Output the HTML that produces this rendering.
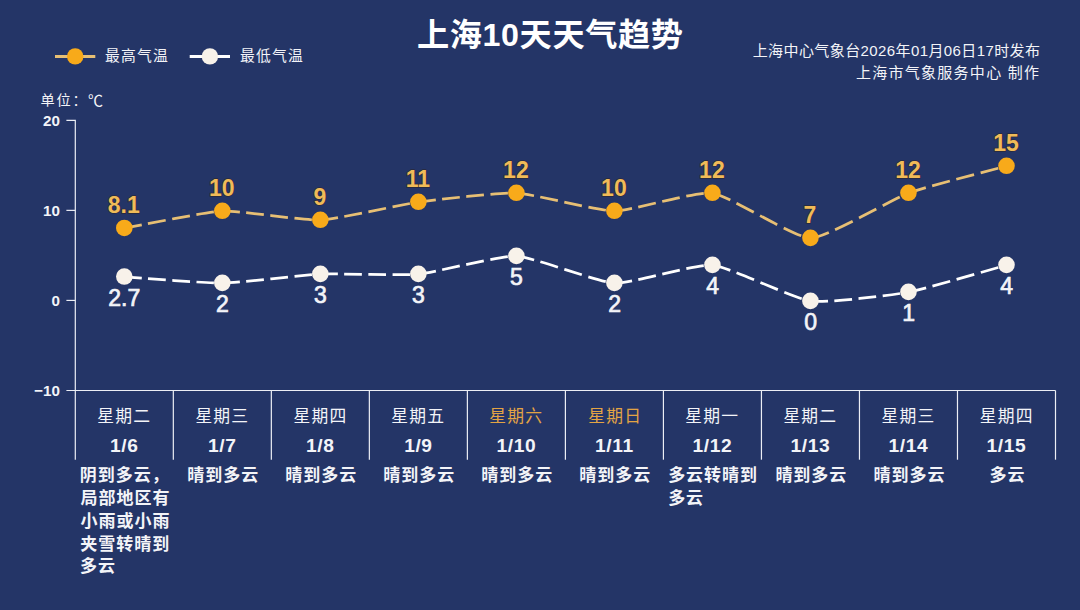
<!DOCTYPE html>
<html lang="zh-CN"><head><meta charset="utf-8"><title>上海10天天气趋势</title>
<style>
html,body{margin:0;padding:0;background:#243567;}
body{width:1080px;height:610px;overflow:hidden;font-family:"Liberation Sans",sans-serif;}
svg{display:block;font-family:"Liberation Sans","Noto Sans CJK SC",sans-serif;}
</style></head><body>
<svg width="1080" height="610" viewBox="0 0 1080 610" role="img" aria-label="上海10天天气趋势">
<rect width="1080" height="610" fill="#243567"/>
<g><title>上海10天天气趋势</title><text x="550.3" y="46.3" font-size="32.2" font-weight="bold" fill="#fff" text-anchor="middle" letter-spacing="0.6">上海10天天气趋势</text></g>
<line x1="55" y1="56.5" x2="95.3" y2="56.5" stroke="#e7bf74" stroke-width="2.9"/><circle cx="75.2" cy="56.4" r="8.2" fill="#f8aa1a"/><g fill="#f3f4f8"><title>最高气温</title><text x="104.9" y="60.9" font-size="14.8" letter-spacing="1.2">最高气温</text></g>
<line x1="189.7" y1="56.5" x2="230" y2="56.5" stroke="#fff" stroke-width="2.9"/><circle cx="209.9" cy="56.4" r="8.2" fill="#f8f2ea"/><g fill="#f3f4f8"><title>最低气温</title><text x="239.9" y="60.9" font-size="14.8" letter-spacing="1.2">最低气温</text></g>
<g fill="#f3f4f8"><title>上海中心气象台2026年01月06日17时发布</title><text x="752.7" y="56.2" font-size="15" textLength="287.3" lengthAdjust="spacing">上海中心气象台2026年01月06日17时发布</text></g>
<g fill="#f3f4f8"><title>上海市气象服务中心 制作</title><text x="856" y="77.9" font-size="15" textLength="183.1" lengthAdjust="spacing" xml:space="preserve">上海市气象服务中心 制作</text></g>
<g><title>单位：℃</title><text x="40.5" y="105.3" font-size="14.2" fill="#f3f4f8" letter-spacing="1.8">单位：</text><text x="88" y="105.8" font-size="15" fill="#f3f4f8">℃</text></g>
<g stroke="#eceef5" stroke-width="1.2" fill="none">
<path d="M66.4 120.3H75.3V390.5"/>
<path d="M66.4 210.37H75.3"/>
<path d="M66.4 300.43H75.3"/>
<path d="M66.4 390.5H1055.5"/>
<path d="M75.3 390.5V459.7"/>
<path d="M173.32 390.5V459.7"/>
<path d="M271.34 390.5V459.7"/>
<path d="M369.36 390.5V459.7"/>
<path d="M467.38 390.5V459.7"/>
<path d="M565.4 390.5V459.7"/>
<path d="M663.42 390.5V459.7"/>
<path d="M761.44 390.5V459.7"/>
<path d="M859.46 390.5V459.7"/>
<path d="M957.48 390.5V459.7"/>
<path d="M1055.5 390.5V459.7"/>
</g>
<g font-size="15.2" font-weight="bold" fill="#f3f4f8" text-anchor="end">
<g><title>20</title><text x="60" y="125.6">20</text></g>
<g><title>10</title><text x="60" y="215.67">10</text></g>
<g><title>0</title><text x="60" y="305.73">0</text></g>
<g><title>-10</title><text x="60" y="395.8">−10</text></g>
</g>
<g fill="none" stroke="#e7bf74" stroke-width="2.75"><path stroke-dasharray="17.87 6.5" d="M124.31 228.18C132.15 226.81 206.65 211.72 222.33 211.07"/><path stroke-dasharray="17.67 6.43" d="M222.33 211.07C238.01 210.42 304.67 220.79 320.35 220.07"/><path stroke-dasharray="17.89 6.51" d="M320.35 220.07C336.03 219.35 402.69 204.22 418.37 202.06"/><path stroke-dasharray="17.67 6.43" d="M418.37 202.06C434.05 199.9 500.71 192.33 516.39 193.05"/><path stroke-dasharray="17.89 6.51" d="M516.39 193.05C532.07 193.77 598.73 211.07 614.41 211.07"/><path stroke-dasharray="17.89 6.51" d="M614.41 211.07C630.09 211.07 696.75 190.89 712.43 193.05"/><path stroke-dasharray="19.37 7.04" d="M712.43 193.05C728.11 195.21 794.77 238.09 810.45 238.09"/><path stroke-dasharray="19.37 7.04" d="M810.45 238.09C826.13 238.09 892.79 198.82 908.47 193.05"/><path stroke-dasharray="18.26 6.64" d="M908.47 193.05C924.15 187.29 998.65 168.19 1006.49 166.03"/></g><g fill="#f8aa1a"><circle cx="124.31" cy="227.93" r="8.3"/><circle cx="222.33" cy="210.82" r="8.3"/><circle cx="320.35" cy="219.82" r="8.3"/><circle cx="418.37" cy="201.81" r="8.3"/><circle cx="516.39" cy="192.8" r="8.3"/><circle cx="614.41" cy="210.82" r="8.3"/><circle cx="712.43" cy="192.8" r="8.3"/><circle cx="810.45" cy="237.84" r="8.3"/><circle cx="908.47" cy="192.8" r="8.3"/><circle cx="1006.49" cy="165.78" r="8.3"/></g>
<g fill="none" stroke="#fff" stroke-width="2.75"><path stroke-dasharray="17.64 6.41" d="M124.31 276.82C132.15 277.32 206.65 283.34 222.33 283.12"/><path stroke-dasharray="17.67 6.43" d="M222.33 283.12C238.01 282.9 304.67 274.83 320.35 274.11"/><path stroke-dasharray="17.6 6.4" d="M320.35 274.11C336.03 273.39 402.69 275.55 418.37 274.11"/><path stroke-dasharray="17.89 6.51" d="M418.37 274.11C434.05 272.67 500.71 255.38 516.39 256.1"/><path stroke-dasharray="18.26 6.64" d="M516.39 256.1C532.07 256.82 598.73 282.4 614.41 283.12"/><path stroke-dasharray="17.89 6.51" d="M614.41 283.12C630.09 283.84 696.75 263.67 712.43 265.11"/><path stroke-dasharray="18.75 6.82" d="M712.43 265.11C728.11 266.55 794.77 298.97 810.45 301.13"/><path stroke-dasharray="17.67 6.43" d="M810.45 301.13C826.13 303.29 892.79 295.01 908.47 292.13"/><path stroke-dasharray="18.26 6.64" d="M908.47 292.13C924.15 289.24 998.65 267.27 1006.49 265.11"/></g><g fill="#f8f2ea"><circle cx="124.31" cy="276.57" r="8.3"/><circle cx="222.33" cy="282.87" r="8.3"/><circle cx="320.35" cy="273.86" r="8.3"/><circle cx="418.37" cy="273.86" r="8.3"/><circle cx="516.39" cy="255.85" r="8.3"/><circle cx="614.41" cy="282.87" r="8.3"/><circle cx="712.43" cy="264.86" r="8.3"/><circle cx="810.45" cy="300.88" r="8.3"/><circle cx="908.47" cy="291.88" r="8.3"/><circle cx="1006.49" cy="264.86" r="8.3"/></g>
<g font-size="23" font-weight="bold" fill="#f0bb58" stroke="#2e2118" stroke-opacity="0.6" stroke-width="1.4" paint-order="stroke" text-anchor="middle">
<g><title>8.1</title><text x="123.8" y="213.03">8.1</text></g>
<g><title>10</title><text x="221.8" y="195.92">10</text></g>
<g><title>9</title><text x="319.85" y="204.92">9</text></g>
<g><title>11</title><text x="417.9" y="186.91">11</text></g>
<g><title>12</title><text x="515.9" y="177.9">12</text></g>
<g><title>10</title><text x="613.9" y="195.92">10</text></g>
<g><title>12</title><text x="711.9" y="177.9">12</text></g>
<g><title>7</title><text x="809.95" y="222.94">7</text></g>
<g><title>12</title><text x="907.95" y="177.9">12</text></g>
<g><title>15</title><text x="1006" y="150.88">15</text></g>
</g>
<g font-size="23" fill="#f3f4f8" stroke="#f3f4f8" stroke-width="0.7" text-anchor="middle">
<g><title>2.7</title><text x="124.3" y="306.17">2.7</text></g>
<g><title>2</title><text x="222.5" y="312.47">2</text></g>
<g><title>3</title><text x="320.5" y="303.46">3</text></g>
<g><title>3</title><text x="418.5" y="303.46">3</text></g>
<g><title>5</title><text x="516.5" y="285.45">5</text></g>
<g><title>2</title><text x="614.6" y="312.47">2</text></g>
<g><title>4</title><text x="712.6" y="294.46">4</text></g>
<g><title>0</title><text x="810.6" y="330.48">0</text></g>
<g><title>1</title><text x="908.6" y="321.48">1</text></g>
<g><title>4</title><text x="1006.6" y="294.46">4</text></g>
</g>
<g font-size="16.8" letter-spacing="1.2" fill="#f3f4f8">
<g><title>星期二</title><text x="97.3" y="421.58">星期二</text></g>
<g><title>星期三</title><text x="195.4" y="421.58">星期三</text></g>
<g><title>星期四</title><text x="293.6" y="421.58">星期四</text></g>
<g><title>星期五</title><text x="391.3" y="421.58">星期五</text></g>
<g fill="#e3a444"><title>星期六</title><text x="489.3" y="421.58">星期六</text></g>
<g fill="#e3a444"><title>星期日</title><text x="588.3" y="421.58">星期日</text></g>
<g><title>星期一</title><text x="685.3" y="421.58">星期一</text></g>
<g><title>星期二</title><text x="783.4" y="421.58">星期二</text></g>
<g><title>星期三</title><text x="881.6" y="421.58">星期三</text></g>
<g><title>星期四</title><text x="979.7" y="421.58">星期四</text></g>
</g>
<g font-size="19.2" font-weight="bold" fill="#f3f4f8" text-anchor="middle" letter-spacing="0.6">
<g><title>1/6</title><text x="124.3" y="451.7">1/6</text></g>
<g><title>1/7</title><text x="222.3" y="451.7">1/7</text></g>
<g><title>1/8</title><text x="320.3" y="451.7">1/8</text></g>
<g><title>1/9</title><text x="418.4" y="451.7">1/9</text></g>
<g><title>1/10</title><text x="516.4" y="451.7">1/10</text></g>
<g><title>1/11</title><text x="614.4" y="451.7">1/11</text></g>
<g><title>1/12</title><text x="712.4" y="451.7">1/12</text></g>
<g><title>1/13</title><text x="810.4" y="451.7">1/13</text></g>
<g><title>1/14</title><text x="908.4" y="451.7">1/14</text></g>
<g><title>1/15</title><text x="1006.4" y="451.7">1/15</text></g>
</g>
<g font-size="17" font-weight="bold" letter-spacing="1" fill="#f3f4f8">
<g><title>阴到多云，</title><text x="79.65" y="480.66">阴到多云，</text></g>
<g><title>局部地区有</title><text x="80.57" y="503.61">局部地区有</text></g>
<g><title>小雨或小雨</title><text x="80.54" y="526.56">小雨或小雨</text></g>
<g><title>夹雪转晴到</title><text x="80.26" y="549.51">夹雪转晴到</text></g>
<g><title>多云</title><text x="80.01" y="572.46">多云</text></g>
<g><title>晴到多云</title><text x="187.27" y="480.66">晴到多云</text></g>
<g><title>晴到多云</title><text x="285.29" y="480.66">晴到多云</text></g>
<g><title>晴到多云</title><text x="383.31" y="480.66">晴到多云</text></g>
<g><title>晴到多云</title><text x="481.33" y="480.66">晴到多云</text></g>
<g><title>晴到多云</title><text x="579.35" y="480.66">晴到多云</text></g>
<g><title>多云转晴到</title><text x="668.13" y="480.66">多云转晴到</text></g>
<g><title>多云</title><text x="668.13" y="503.61">多云</text></g>
<g><title>晴到多云</title><text x="775.39" y="480.66">晴到多云</text></g>
<g><title>晴到多云</title><text x="873.41" y="480.66">晴到多云</text></g>
<g><title>多云</title><text x="989.54" y="480.66">多云</text></g>
</g>
</svg>
</body></html>
